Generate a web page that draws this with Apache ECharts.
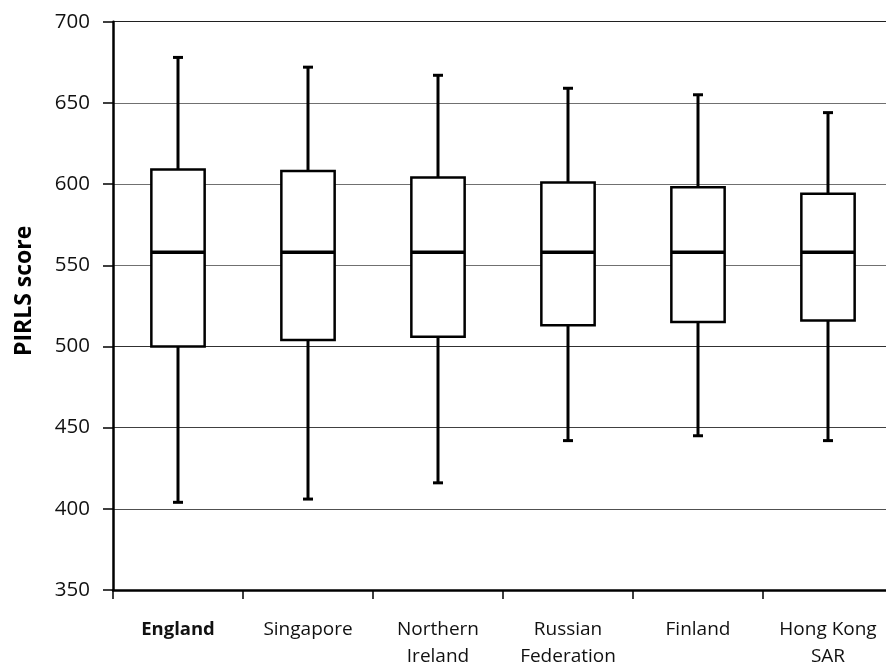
<!DOCTYPE html>
<html>
<head>
<meta charset="utf-8">
<script src="https://cdn.jsdelivr.net/npm/echarts@6/dist/echarts.min.js"></script>
<style>
html,body{margin:0;padding:0;background:#fff;}
#chart{width:886px;height:665px;}
</style>
</head>
<body>
<div id="chart"></div>
<script>
const categories = ['England', 'Singapore', 'Northern\nIreland', 'Russian\nFederation', 'Finland', 'Hong Kong\nSAR'];
const whiskerLow = [404, 406, 416, 442, 445, 442];
const boxLow = [500, 504, 506, 513, 515, 516];
const medians = [558, 558, 558, 558, 558, 558];
const boxHigh = [609, 608, 604, 601, 598, 594];
const whiskerHigh = [678, 672, 667, 659, 655, 644];
const yTicks = [350, 400, 450, 500, 550, 600, 650, 700];

const data = categories.map((c, i) => [i, whiskerLow[i], boxLow[i], medians[i], boxHigh[i], whiskerHigh[i]]);

const chart = echarts.init(document.getElementById('chart'));
const FONT = '"Open Sans", sans-serif';

function renderItem(params, api) {
  const idx = api.value(0);
  const pLow = api.coord([idx, api.value(1)]);
  const pQ1 = api.coord([idx, api.value(2)]);
  const pMed = api.coord([idx, api.value(3)]);
  const pQ3 = api.coord([idx, api.value(4)]);
  const pHigh = api.coord([idx, api.value(5)]);
  const band = api.size([1, 0])[0];
  const bw = band * 0.41;
  const cap = 10;
  const x = pMed[0];
  const stroke = { stroke: '#000', lineWidth: 3 };
  return {
    type: 'group',
    children: [
      { type: 'line', shape: { x1: x, y1: pQ3[1], x2: x, y2: pHigh[1] }, style: stroke },
      { type: 'line', shape: { x1: x, y1: pQ1[1], x2: x, y2: pLow[1] }, style: stroke },
      { type: 'line', shape: { x1: x - cap / 2, y1: pHigh[1], x2: x + cap / 2, y2: pHigh[1] }, style: stroke },
      { type: 'line', shape: { x1: x - cap / 2, y1: pLow[1], x2: x + cap / 2, y2: pLow[1] }, style: stroke },
      { type: 'rect', shape: { x: x - bw / 2, y: pQ3[1], width: bw, height: pQ1[1] - pQ3[1] },
        style: { fill: '#fff', stroke: '#000', lineWidth: 2.5 } },
      { type: 'line', shape: { x1: x - bw / 2, y1: pMed[1], x2: x + bw / 2, y2: pMed[1] },
        style: { stroke: '#000', lineWidth: 3.5 } }
    ]
  };
}

chart.setOption({
  animation: false,
  backgroundColor: '#fff',
  grid: { left: 113, top: 21.7, width: 780, height: 568.3, containLabel: false, outerBoundsMode: 'none' },
  xAxis: {
    type: 'category',
    data: categories,
    boundaryGap: true,
    axisLine: { lineStyle: { color: '#000', width: 2.5 } },
    axisTick: { show: true, length: 9, alignWithLabel: false, lineStyle: { color: '#000', width: 1.5 } },
    axisLabel: {
      interval: 0,
      margin: 26,
      fontFamily: FONT,
      fontSize: 19,
      lineHeight: 27,
      color: '#111',
      formatter: function (v, i) { return i === 0 ? '{b|' + v + '}' : v; },
      rich: { b: { fontWeight: 'bold', fontFamily: FONT, fontSize: 18.5, lineHeight: 27, color: '#111' } }
    },
    splitLine: { show: false }
  },
  yAxis: {
    type: 'value',
    min: yTicks[0],
    max: yTicks[yTicks.length - 1],
    interval: 50,
    name: 'PIRLS score',
    nameLocation: 'middle',
    nameRotate: 90,
    nameGap: 77,
    nameTextStyle: { fontFamily: FONT, fontSize: 23, fontWeight: 'bold', color: '#000', padding: [0, 0, 0, 30] },
    axisLine: { show: true, lineStyle: { color: '#000', width: 2.5 } },
    axisTick: { show: true, length: 10, lineStyle: { color: '#000', width: 1.5 } },
    axisLabel: { margin: 23, fontFamily: FONT, fontSize: 20.5, color: '#111' },
    splitLine: { show: true, lineStyle: { color: ['#808080', '#505050', '#404040', '#303030', '#707070', '#707070', '#707070', '#202020'], width: 1 } }
  },
  series: [{
    type: 'custom',
    renderItem: renderItem,
    encode: { x: 0, y: [1, 2, 3, 4, 5] },
    data: data,
    clip: false
  }]
});
</script>
</body>
</html>
